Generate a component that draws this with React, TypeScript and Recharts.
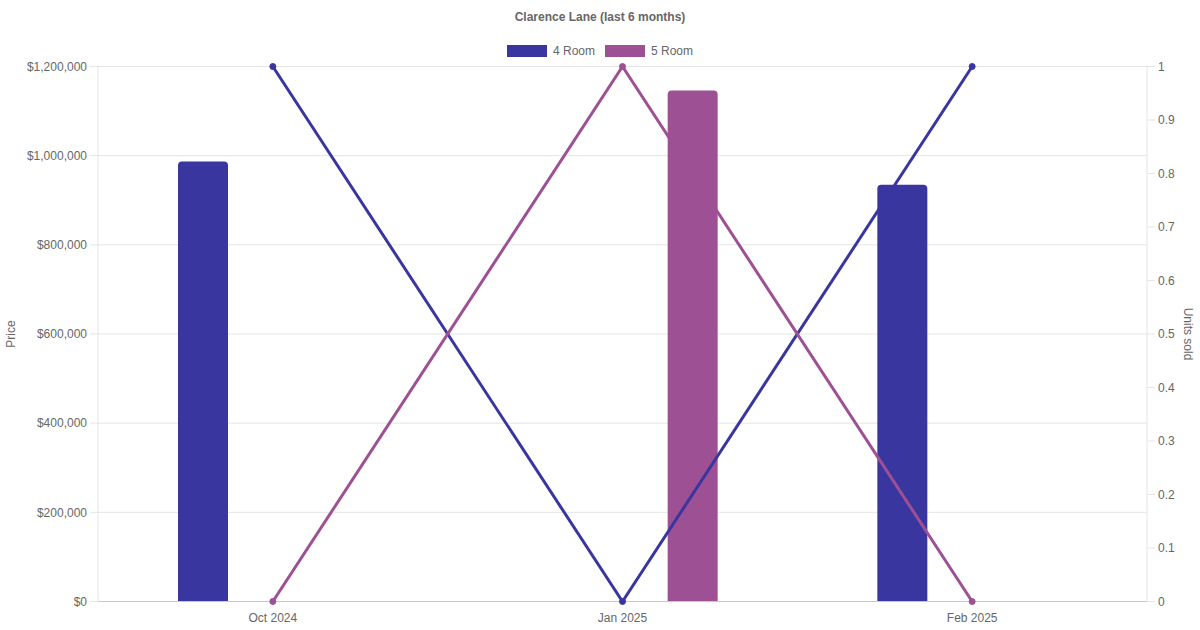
import React from "react";
import {
  ComposedChart,
  Bar,
  Line,
  XAxis,
  YAxis,
  CartesianGrid,
  Legend,
} from "recharts";

const months = ["Oct 2024", "Jan 2025", "Feb 2025"];
const price4Room = [987000, null, 935000];
const price5Room = [null, 1146000, null];
const units4Room = [1, 0, 1];
const units5Room = [0, 1, 0];
const priceTicks = [0, 200000, 400000, 600000, 800000, 1000000, 1200000];
const unitTicks = [0, 0.1, 0.2, 0.3, 0.4, 0.5, 0.6, 0.7, 0.8, 0.9, 1];

const seriesNames = ["4 Room", "5 Room"];
const seriesColors = ["#3a36a0", "#9e5094"];

const data = months.map((m, i) => ({
  month: m,
  p4: price4Room[i],
  p5: price5Room[i],
  u4: units4Room[i],
  u5: units5Room[i],
}));

const font = "'Liberation Sans', Arial, Helvetica, sans-serif";
const textColor = "#666";
const gridColor = "#e5e5e5";
const tick = { fontSize: 12, fill: textColor, fontFamily: font };

const money = (v: number) => `$${v.toLocaleString("en-US")}`;

function LegendBox() {
  return (
    <div
      style={{
        display: "flex",
        justifyContent: "center",
        alignItems: "center",
        gap: 10,
        fontFamily: font,
        fontSize: 12,
        color: textColor,
      }}
    >
      {seriesNames.map((n, i) => (
        <div key={n} style={{ display: "flex", alignItems: "center", gap: 6 }}>
          <span
            style={{
              display: "inline-block",
              width: 40,
              height: 12,
              background: seriesColors[i],
            }}
          />
          <span>{n}</span>
        </div>
      ))}
    </div>
  );
}

function SideLabel({ viewBox, value, side }: any) {
  const x = side === "left" ? viewBox.x + 11 : viewBox.x + viewBox.width - 12;
  const y = viewBox.y + viewBox.height / 2;
  return (
    <text
      x={x}
      y={y}
      transform={`rotate(${side === "left" ? -90 : 90} ${x} ${y})`}
      textAnchor="middle"
      dominantBaseline="central"
      fontSize={12}
      fill={textColor}
      fontFamily={font}
    >
      {value}
    </text>
  );
}

export default function App() {
  return (
    <div
      style={{
        position: "absolute",
        left: 0,
        top: 0,
        width: 1200,
        height: 630,
        background: "#fff",
      }}
    >
      <div
        style={{
          position: "absolute",
          top: 10,
          left: 0,
          width: 1200,
          textAlign: "center",
          fontFamily: font,
          fontSize: 12,
          fontWeight: "bold",
          color: textColor,
          zIndex: 1,
        }}
      >
        Clarence Lane (last 6 months)
      </div>
      <ComposedChart
        width={1200}
        height={630}
        data={data}
        margin={{ top: 66.5, right: 0, left: 0, bottom: 0 }}
        barSize={50}
        barGap={90}
      >
        <CartesianGrid yAxisId="price" vertical={false} stroke={gridColor} />
        <XAxis
          dataKey="month"
          height={28.5}
          tick={tick}
          tickLine={false}
          tickSize={0}
          tickMargin={12}
          axisLine={{ stroke: "#c8c8c8" }}
        />
        <YAxis
          yAxisId="price"
          orientation="left"
          width={98}
          domain={[0, 1200000]}
          ticks={priceTicks}
          tickFormatter={money}
          tick={tick}
          tickSize={8}
          tickMargin={3}
          tickLine={{ stroke: gridColor }}
          axisLine={{ stroke: gridColor }}
          label={<SideLabel value="Price" side="left" />}
        />
        <YAxis
          yAxisId="units"
          orientation="right"
          width={53}
          domain={[0, 1]}
          ticks={unitTicks}
          tick={tick}
          tickSize={8}
          tickMargin={3}
          tickLine={{ stroke: gridColor }}
          axisLine={{ stroke: gridColor }}
          label={<SideLabel value="Units sold" side="right" />}
        />
        <Legend
          layout="horizontal"
          verticalAlign="middle"
          align="center"
          wrapperStyle={{ top: 44, left: 0, width: 1200, height: 16 }}
          content={() => <LegendBox />}
        />
        <Line
          yAxisId="units"
          dataKey="u4"
          name={seriesNames[0]}
          stroke={seriesColors[0]}
          strokeWidth={3}
          dot={{ r: 3, fill: seriesColors[0], stroke: seriesColors[0], strokeWidth: 1 }}
          type="linear"
          isAnimationActive={false}
        />
        <Line
          yAxisId="units"
          dataKey="u5"
          name={seriesNames[1]}
          stroke={seriesColors[1]}
          strokeWidth={3}
          dot={{ r: 3, fill: seriesColors[1], stroke: seriesColors[1], strokeWidth: 1 }}
          type="linear"
          isAnimationActive={false}
        />
        <Bar
          yAxisId="price"
          dataKey="p4"
          name={seriesNames[0]}
          fill={seriesColors[0]}
          radius={[4, 4, 0, 0]}
          isAnimationActive={false}
        />
        <Bar
          yAxisId="price"
          dataKey="p5"
          name={seriesNames[1]}
          fill={seriesColors[1]}
          radius={[4, 4, 0, 0]}
          isAnimationActive={false}
        />
      </ComposedChart>
    </div>
  );
}
